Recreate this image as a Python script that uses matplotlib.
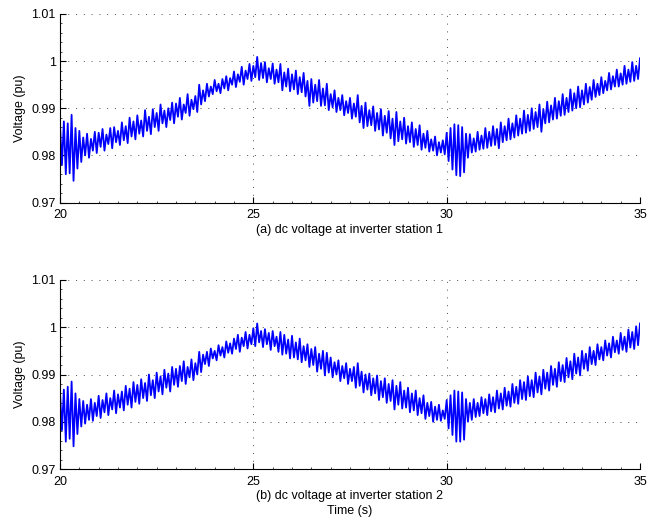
import numpy as np
import matplotlib
matplotlib.use("Agg")
import matplotlib.pyplot as plt
from matplotlib.ticker import AutoMinorLocator

plt.rcParams['font.family'] = ['Liberation Sans', 'DejaVu Sans']

# sample times (s); each sample holds the top and bottom of the oscillation band
t = np.round(np.arange(200, 351) / 10.0, 1)

# station 1, band top / bottom in 1e-4 pu
hi1 = [9865, 9872, 9868, 9886, 9858, 9852, 9838, 9846, 9835, 9850,
       9848, 9856, 9844, 9858, 9860, 9852, 9870, 9862, 9880, 9872,
       9885, 9874, 9896, 9882, 9898, 9890, 9908, 9895, 9900, 9912,
       9910, 9922, 9908, 9930, 9918, 9926, 9950, 9938, 9952, 9946,
       9960, 9952, 9962, 9968, 9964, 9978, 9972, 9988, 9980, 9994,
       9990, 10009, 9996, 9998, 9985, 9995, 9982, 9994, 9976, 9984,
       9972, 9980, 9966, 9975, 9958, 9962, 9950, 9960, 9942, 9952,
       9930, 9938, 9922, 9928, 9915, 9922, 9910, 9928, 9905, 9912,
       9896, 9904, 9890, 9898, 9884, 9894, 9878, 9892, 9872, 9880,
       9862, 9870, 9856, 9864, 9846, 9852, 9834, 9840, 9828, 9832,
       9848, 9858, 9866, 9864, 9860, 9846, 9845, 9836, 9850, 9842,
       9858, 9850, 9862, 9856, 9870, 9862, 9878, 9868, 9885, 9878,
       9895, 9886, 9900, 9892, 9908, 9898, 9914, 9906, 9922, 9915,
       9930, 9922, 9940, 9932, 9946, 9938, 9952, 9945, 9960, 9952,
       9966, 9958, 9975, 9968, 9982, 9974, 9990, 9982, 9998, 9990,
       10006]
lo1 = [9780, 9760, 9762, 9746, 9772, 9786, 9800, 9795, 9810, 9805,
       9818, 9810, 9824, 9815, 9828, 9822, 9832, 9826, 9840, 9834,
       9846, 9840, 9852, 9845, 9860, 9852, 9868, 9860, 9875, 9868,
       9882, 9876, 9890, 9884, 9898, 9892, 9908, 9915, 9925, 9930,
       9936, 9932, 9942, 9938, 9950, 9945, 9956, 9950, 9962, 9958,
       9966, 9960, 9964, 9955, 9962, 9952, 9955, 9938, 9946, 9936,
       9940, 9930, 9934, 9925, 9905, 9912, 9915, 9905, 9906, 9896,
       9902, 9892, 9896, 9885, 9890, 9878, 9882, 9870, 9858, 9862,
       9864, 9852, 9855, 9842, 9848, 9836, 9822, 9830, 9834, 9825,
       9828, 9818, 9822, 9812, 9816, 9808, 9810, 9800, 9806, 9802,
       9788, 9770, 9758, 9756, 9764, 9795, 9806, 9808, 9812, 9814,
       9816, 9820, 9822, 9815, 9828, 9832, 9834, 9838, 9842, 9846,
       9848, 9852, 9856, 9860, 9850, 9868, 9870, 9876, 9878, 9884,
       9886, 9892, 9895, 9900, 9902, 9908, 9912, 9918, 9924, 9928,
       9932, 9938, 9940, 9946, 9946, 9950, 9952, 9956, 9958, 9962,
       9966]

# station 2
hi2 = [9862, 9868, 9874, 9885, 9860, 9848, 9844, 9836, 9848, 9840,
       9855, 9846, 9860, 9850, 9866, 9858, 9864, 9876, 9870, 9884,
       9878, 9890, 9882, 9900, 9888, 9904, 9896, 9910, 9902, 9916,
       9912, 9918, 9928, 9916, 9932, 9924, 9948, 9942, 9948, 9955,
       9950, 9962, 9958, 9970, 9966, 9976, 9984, 9978, 9990, 9984,
       9998, 10008, 9992, 9996, 9988, 9992, 9980, 9990, 9984, 9974,
       9982, 9968, 9976, 9960, 9964, 9954, 9958, 9944, 9950, 9946,
       9936, 9926, 9930, 9918, 9924, 9912, 9916, 9924, 9906, 9900,
       9902, 9892, 9898, 9886, 9892, 9880, 9888, 9876, 9884, 9866,
       9872, 9860, 9866, 9850, 9856, 9840, 9842, 9832, 9836, 9824,
       9846, 9856, 9866, 9864, 9862, 9848, 9840, 9848, 9840, 9852,
       9848, 9858, 9852, 9866, 9860, 9872, 9864, 9880, 9874, 9888,
       9884, 9896, 9888, 9904, 9896, 9910, 9904, 9918, 9912, 9926,
       9920, 9935, 9928, 9944, 9936, 9950, 9944, 9958, 9950, 9964,
       9958, 9972, 9966, 9980, 9972, 9988, 9980, 9995, 9990, 10002,
       10008]
lo2 = [9782, 9758, 9764, 9748, 9774, 9790, 9796, 9804, 9802, 9812,
       9808, 9820, 9814, 9826, 9818, 9830, 9824, 9836, 9830, 9842,
       9838, 9850, 9844, 9856, 9850, 9864, 9858, 9872, 9864, 9878,
       9874, 9886, 9880, 9894, 9888, 9900, 9905, 9922, 9918, 9934,
       9930, 9940, 9936, 9946, 9944, 9954, 9948, 9960, 9955, 9964,
       9960, 9968, 9958, 9964, 9952, 9960, 9948, 9942, 9944, 9934,
       9936, 9932, 9926, 9930, 9916, 9920, 9906, 9912, 9898, 9904,
       9894, 9900, 9886, 9892, 9880, 9886, 9872, 9876, 9862, 9868,
       9856, 9860, 9846, 9852, 9840, 9844, 9826, 9836, 9828, 9830,
       9820, 9824, 9814, 9818, 9806, 9812, 9800, 9804, 9802, 9806,
       9786, 9772, 9758, 9758, 9762, 9800, 9804, 9810, 9812, 9818,
       9814, 9822, 9820, 9828, 9826, 9834, 9832, 9840, 9838, 9848,
       9846, 9854, 9852, 9862, 9858, 9870, 9866, 9878, 9874, 9886,
       9884, 9894, 9890, 9902, 9898, 9912, 9908, 9922, 9920, 9932,
       9930, 9940, 9936, 9947, 9944, 9952, 9948, 9957, 9954, 9962,
       9963]

yticks = [0.97, 0.98, 0.99, 1.0, 1.01]
ytick_labels = ['0.97', '0.98', '0.99', '1', '1.01']
xticks = [20, 25, 30, 35]


def zigzag(hi, lo):
    # top of band at each sample, bottom half a step later
    x = np.empty(2 * len(t))
    y = np.empty(2 * len(t))
    x[0::2] = t
    x[1::2] = t + 0.05
    y[0::2] = np.array(hi) / 1e4
    y[1::2] = np.array(lo) / 1e4
    return x[:-1], y[:-1]


fig = plt.figure(figsize=(6.49, 5.22), dpi=100)
W, H = 649.0, 522.0
ax1 = fig.add_axes([60 / W, 1 - 202.5 / H, 580 / W, 188.5 / H])
ax2 = fig.add_axes([60 / W, 1 - 469 / H, 580 / W, 189 / H])

for ax, hi, lo in [(ax1, hi1, lo1), (ax2, hi2, lo2)]:
    x, y = zigzag(hi, lo)
    ax.plot(x, y, color=(0, 0, 1), lw=1.3)
    ax.set_xlim(20, 35)
    ax.set_ylim(0.97, 1.01)
    ax.set_xticks(xticks)
    ax.set_xticklabels([str(v) for v in xticks])
    ax.set_yticks(yticks)
    ax.set_yticklabels(ytick_labels)
    ax.xaxis.set_minor_locator(AutoMinorLocator(10))
    ax.yaxis.set_minor_locator(AutoMinorLocator(5))
    ax.tick_params(which='major', direction='in', length=4, width=0.8,
                   labelsize=9, colors='black')
    ax.tick_params(axis='x', which='major', pad=5)
    ax.tick_params(axis='y', which='major', pad=3)
    ax.tick_params(which='minor', direction='in', length=1.5, width=0.5)
    ax.spines['top'].set_visible(False)
    ax.spines['right'].set_visible(False)
    ax.spines['left'].set_linewidth(0.8)
    ax.spines['bottom'].set_linewidth(0.8)
    ax.grid(True, which='major', color='0.3', linestyle=(0, (1, 7)), lw=0.7)
    ax.set_ylabel('Voltage (pu)', fontsize=9)
    ax.yaxis.set_label_coords(-(60 - 26) / 580, 0.5)

cx = 350 / W
fig.text(cx, 1 - 230 / H, '(a) dc voltage at inverter station 1', ha='center', va='center', fontsize=9)
fig.text(cx, 1 - 496 / H, '(b) dc voltage at inverter station 2', ha='center', va='center', fontsize=9)
fig.text(cx, 1 - 511 / H, 'Time (s)', ha='center', va='center', fontsize=9)

fig.savefig('out.png', dpi=100)
